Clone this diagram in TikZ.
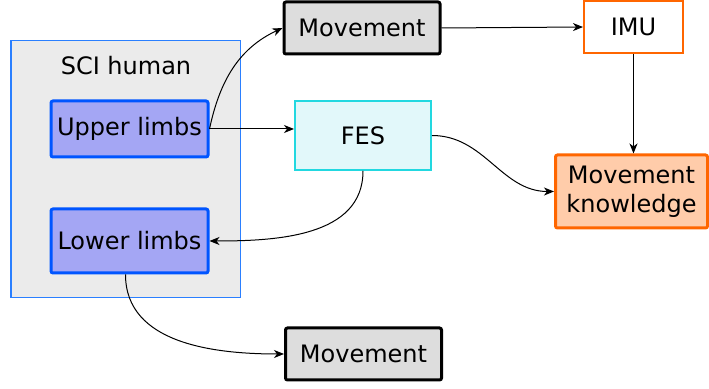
\documentclass[tikz,border=0pt]{standalone}
\usepackage{fontspec}
\setmainfont{DejaVu Sans}
\usetikzlibrary{arrows.meta,positioning}
\definecolor{HumanFill}{HTML}{EBEBEB}
\definecolor{HumanLine}{HTML}{2A7FFF}
\definecolor{LimbFill}{HTML}{A4A6F4}
\definecolor{LimbLine}{HTML}{0055FF}
\definecolor{MoveFill}{HTML}{DDDDDD}
\definecolor{FesFill}{HTML}{E2F8FA}
\definecolor{FesLine}{HTML}{22D8E0}
\definecolor{Orange}{HTML}{FF6600}
\definecolor{KnowFill}{HTML}{FFCCAA}
\begin{document}
\begin{tikzpicture}[x=0.5pt,y=-0.5pt,
  every node/.style={font=\fontsize{12}{14.5}\selectfont,inner sep=0pt,align=center},
  human/.style={draw=HumanLine,fill=HumanFill,line width=0.5pt,minimum width=114.5pt,minimum height=128.5pt},
  limb/.style={draw=LimbLine,fill=LimbFill,line width=1.5pt,rounded corners=1pt,minimum width=78.5pt},
  movebox/.style={draw=black,fill=MoveFill,line width=1.5pt,rounded corners=1pt,minimum width=78pt,minimum height=26pt},
  fesbox/.style={draw=FesLine,fill=FesFill,line width=1pt,minimum width=68pt,minimum height=34.5pt},
  imubox/.style={draw=Orange,fill=white,line width=1pt,minimum width=49.5pt,minimum height=26pt},
  knowbox/.style={draw=Orange,fill=KnowFill,line width=1.5pt,rounded corners=1pt,minimum width=76pt,minimum height=36.5pt},
  link/.style={draw=black,line width=0.5pt,-{Stealth[length=5pt,width=4pt,inset=1.5pt]}}
]
\useasboundingbox (0,0) rectangle (709,389);
\node[human] (human) at (125.5,169.5) {};
\node (title) at (126,66) {SCI human};
\node[limb,minimum height=28pt] (upper) at (129.5,129) {Upper limbs};
\node[limb,minimum height=32pt] (lower) at (129.5,241) {Lower limbs};
\node[movebox] (move1) at (362,28) {Movement};
\node[movebox] (move2) at (363.5,354) {Movement};
\node[fesbox] (fes) at (363,135.5) {FES};
\node[imubox] (imu) at (633.5,27) {IMU};
\node[knowbox] (know) at (631.5,191.5) {Movement\\knowledge};
% connections
\draw[link] (upper.east) -- (upper.east -| fes.west);
\draw[link] (upper.east) to[out=78,in=205] (move1.west);
\draw[link] (move1.east) -- (imu.west);
\draw[link] (imu.south) -- (imu.south |- know.north);
\draw[link] (fes.east) to[out=0,in=180] (know.west);
\draw[link] (fes.south) to[out=-90,in=0] (lower.east);
\draw[link] ([xshift=-2pt]lower.south) to[out=-90,in=180] (move2.west);
\end{tikzpicture}
\end{document}
